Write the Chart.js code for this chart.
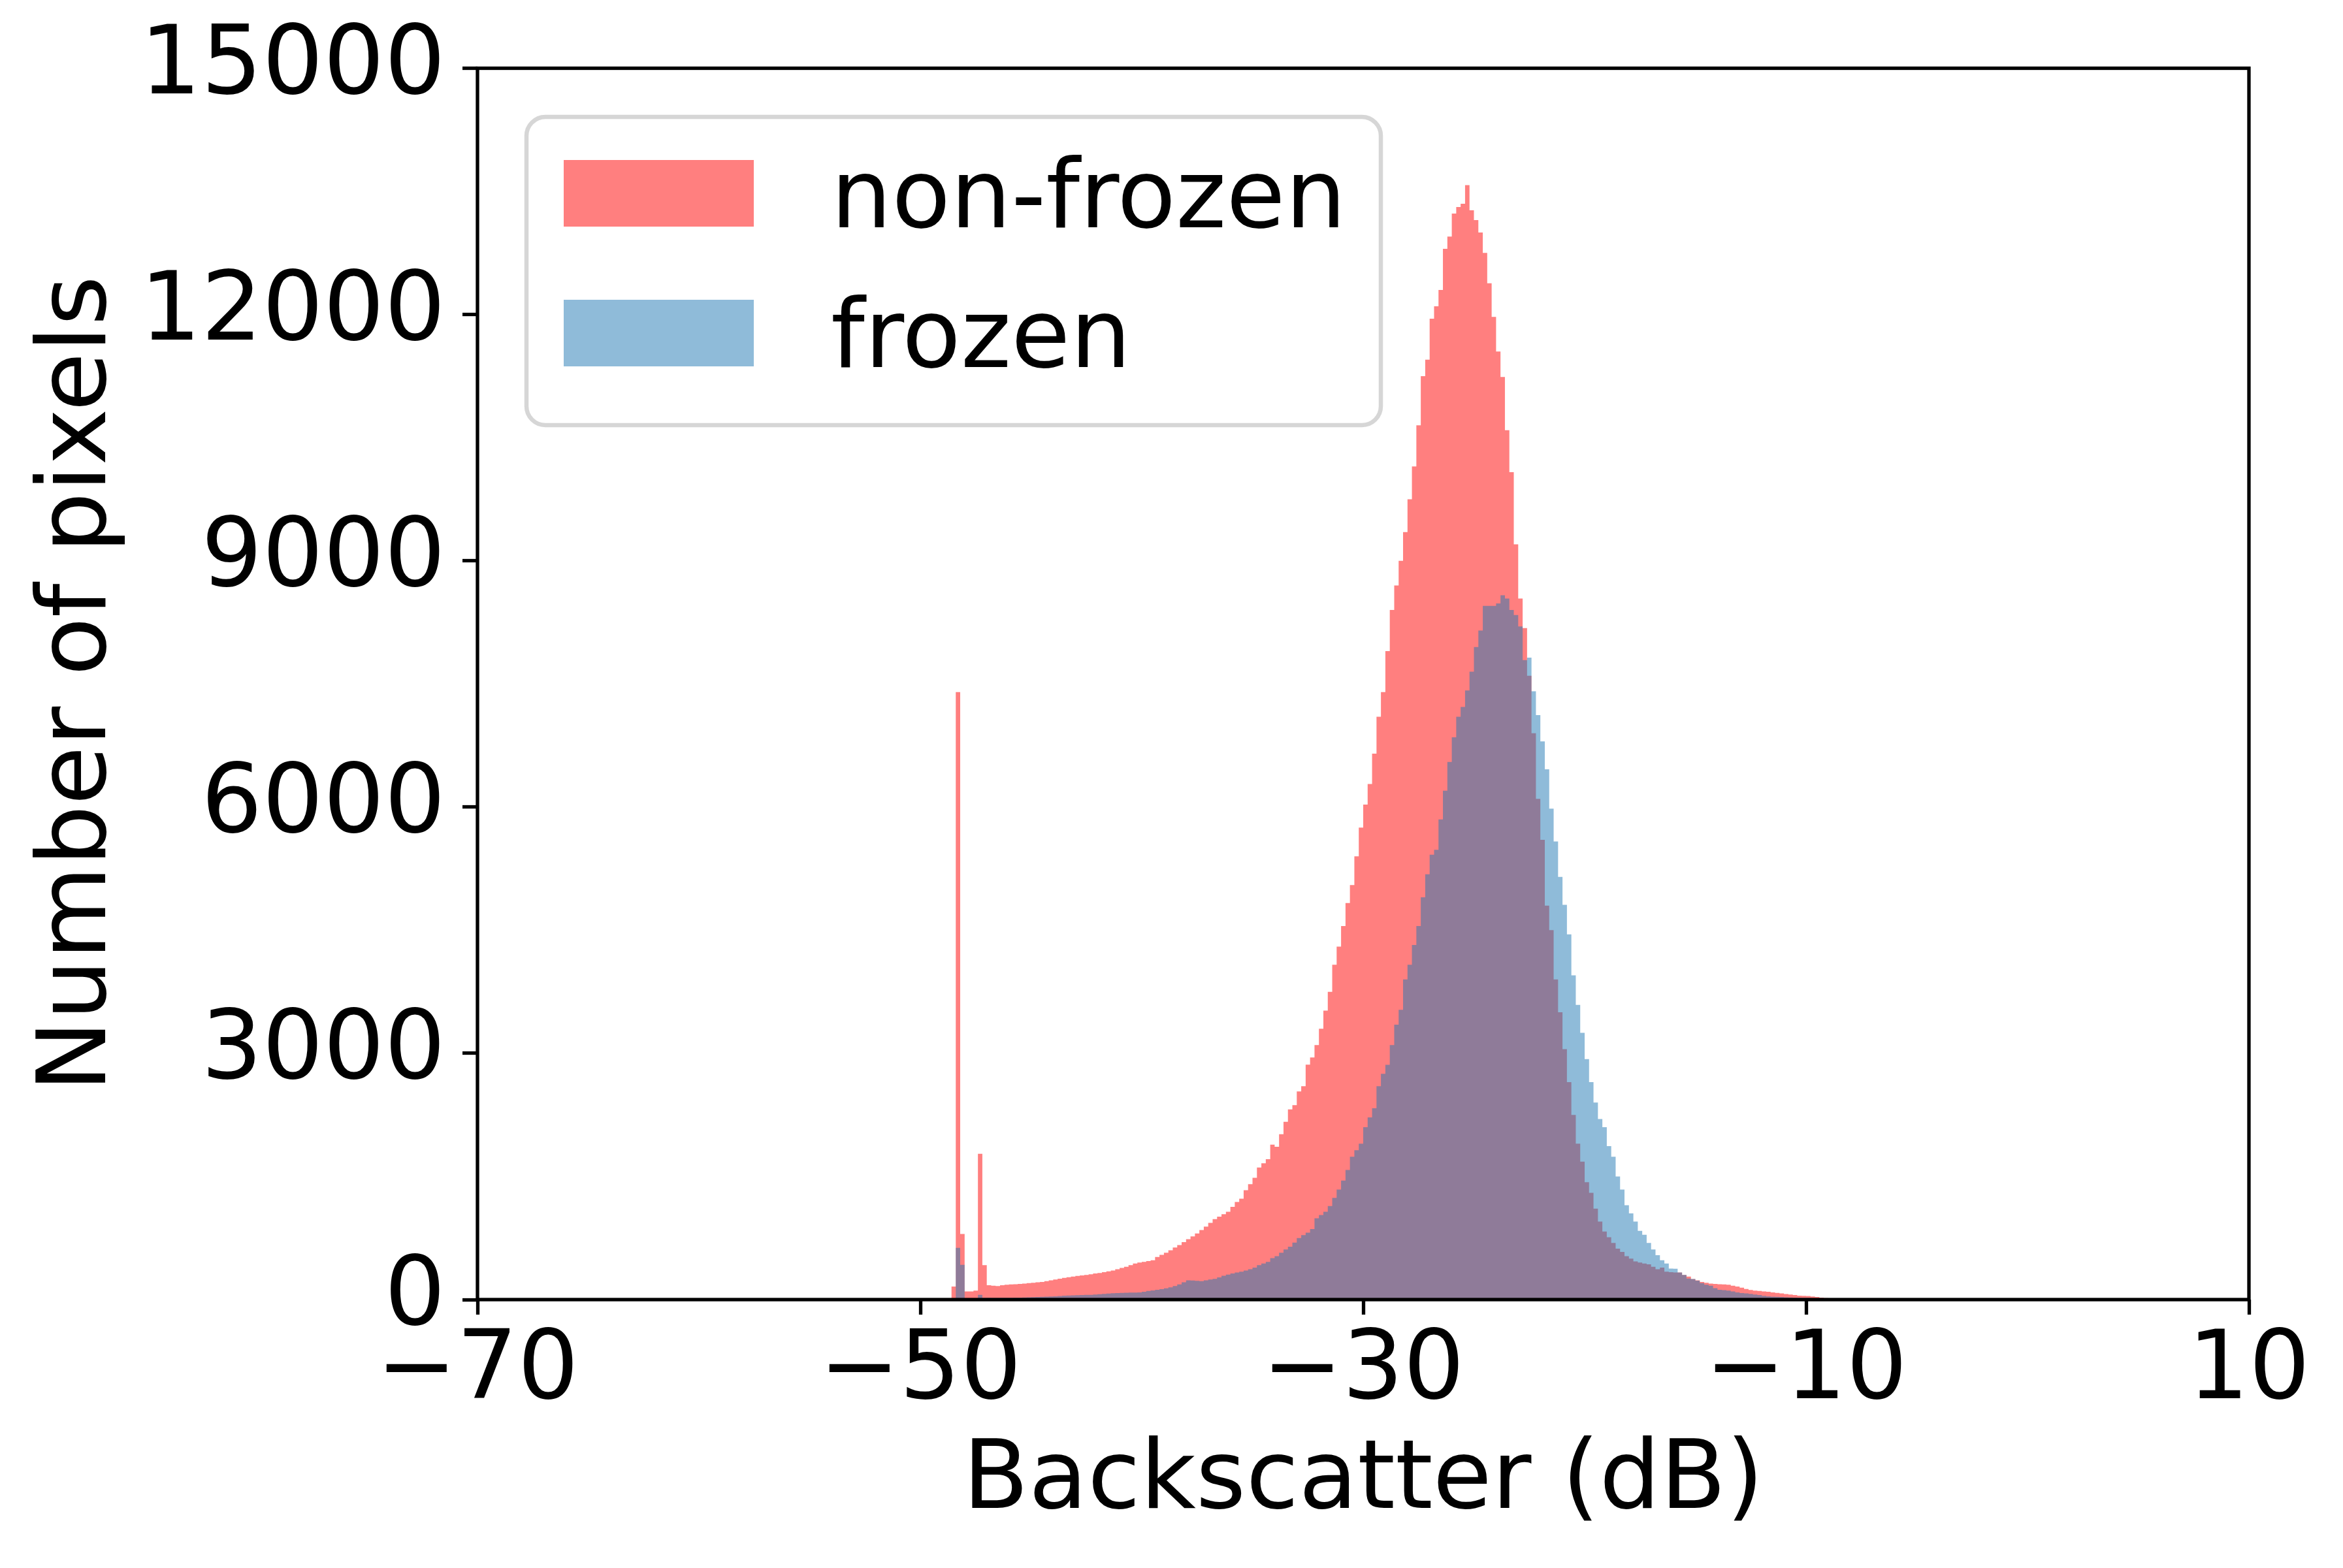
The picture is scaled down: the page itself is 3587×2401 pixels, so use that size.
<!DOCTYPE html>
<html>
<head>
<meta charset="utf-8">
<script src="https://cdn.jsdelivr.net/npm/chart.js@4.4.1/dist/chart.umd.min.js"></script>
<style>
html,body{margin:0;padding:0;background:#ffffff;}
canvas{display:block;}
</style>
</head>
<body>
<canvas id="c" width="3587" height="2401" style="width:3587px;height:2401px"></canvas>
<script>
// ---- data (0.2 dB bins) ----
const binStart = -48.6;   // left edge of first bin (dB)
const binWidth = 0.2;     // bin width (dB)
const seriesLabels = ['non-frozen', 'frozen'];
const nonFrozen = [
  160, 7400, 800, 100, 100, 110, 1776, 420, 175, 170,
  165, 175, 180, 185, 186, 190, 195, 200, 205, 210,
  215, 225, 235, 245, 255, 265, 272, 280, 288, 295,
  300, 308, 318, 325, 335, 345, 355, 370, 385, 400,
  420, 440, 451, 460, 470, 480, 520, 545, 570, 600,
  635, 665, 700, 735, 770, 805, 848, 890, 935, 981,
  1010, 1040, 1070, 1130, 1190, 1230, 1332, 1407, 1483, 1609,
  1660, 1711, 1888, 1862, 2014, 2166, 2318, 2369, 2536, 2600,
  2861, 2950, 3100, 3300, 3520, 3750, 4080, 4300, 4550, 4830,
  5050, 5400, 5750, 6030, 6280, 6650, 7100, 7400, 7900, 8400,
  8700, 9000, 9350, 9750, 10150, 10650, 11250, 11450, 11950, 12100,
  12300, 12800, 12950, 13230, 13310, 13350, 13575, 13270, 13150, 13000,
  12750, 12380, 11970, 11550, 11240, 10590, 10080, 9200, 8540, 8180,
  7600, 6900, 6100, 5600, 4800, 4500, 3900, 3500, 3050, 2650,
  2250, 1900, 1680, 1430, 1300, 1108, 950, 830, 760, 690,
  620, 580, 530, 500, 465, 452, 440, 430, 400, 370,
  390, 340, 335, 330, 330, 300, 280, 250, 235, 215,
  205, 195, 190, 187, 185, 180, 170, 160, 145, 130,
  118, 110, 105, 100, 95, 88, 82, 76, 68, 62,
  55, 48, 46, 44, 38, 32, 24, 18, 13, 10,
  8, 5, 3
];
const frozen = [
  0, 631, 424, 13, 13, 15, 58, 20, 21, 20,
  20, 21, 22, 22, 23, 24, 25, 27, 29, 31,
  33, 36, 38, 40, 44, 48, 50, 51, 53, 55,
  57, 58, 62, 66, 70, 74, 78, 80, 82, 84,
  85, 86, 87, 95, 105, 112, 120, 128, 138, 150,
  165, 185, 210, 235, 232, 228, 225, 235, 245, 252,
  270, 290, 305, 318, 330, 340, 355, 370, 390, 420,
  440, 460, 505, 530, 570, 610, 645, 695, 750, 785,
  815, 860, 990, 1030, 1070, 1140, 1240, 1340, 1450, 1580,
  1740, 1820, 1900, 2100, 2220, 2330, 2600, 2750, 2860, 3100,
  3350, 3530, 3900, 4080, 4320, 4550, 4900, 5180, 5420, 5480,
  5850, 6200, 6550, 6850, 7100, 7220, 7420, 7650, 7950, 8150,
  8450, 8450, 8450, 8480, 8580, 8540, 8400, 8340, 8200, 7790,
  7820, 7410, 7120, 6800, 6460, 5980, 5580, 5150, 4810, 4450,
  3950, 3590, 3250, 2930, 2650, 2400, 2200, 2100, 1870, 1740,
  1500, 1340, 1150, 1050, 950, 837, 790, 690, 610, 540,
  480, 440, 377, 375, 330, 300, 256, 250, 230, 200,
  180, 170, 140, 120, 115, 110, 100, 88, 80, 75,
  70, 62, 55, 46, 40, 36, 34, 32, 28, 26,
  24, 22, 20, 19, 16, 14, 11, 8, 6, 4,
  3, 2, 1
];
const xTicks = [-70, -50, -30, -10, 10];
const yTicks = [0, 3000, 6000, 9000, 12000, 15000];
const xTitle = 'Backscatter (dB)';
const yTitle = 'Number of pixels';

// ---- build histogram step outlines from the bins ----
function histPoints(vals) {
  const pts = vals.map((v, i) => ({ x: +(binStart + i * binWidth).toFixed(3), y: v }));
  pts.push({ x: +(binStart + vals.length * binWidth).toFixed(3), y: 0 });
  return pts;
}

const FONT = "'DejaVu Sans'";
const FS = 147;
const LW = 5.3;
Chart.defaults.font.family = FONT;
Chart.defaults.color = '#000000';

const fmt = v => (v < 0 ? '\u2212' + Math.abs(v) : String(v));

const framePlugin = {
  id: 'frame',
  afterDatasetsDraw(chart) {
    const { ctx, chartArea: a } = chart;
    ctx.save();
    ctx.strokeStyle = '#000000';
    ctx.lineWidth = LW;
    ctx.lineJoin = 'miter';
    ctx.strokeRect(a.left, a.top, a.right - a.left, a.bottom - a.top);
    ctx.restore();
  }
};

const legendPlugin = {
  id: 'boxLegend',
  afterDraw(chart) {
    const ctx = chart.ctx;
    const bx = 806, by = 179, bw = 1308, bh = 472, r = 29;
    ctx.save();
    ctx.beginPath();
    ctx.moveTo(bx + r, by);
    ctx.lineTo(bx + bw - r, by);
    ctx.arcTo(bx + bw, by, bx + bw, by + r, r);
    ctx.lineTo(bx + bw, by + bh - r);
    ctx.arcTo(bx + bw, by + bh, bx + bw - r, by + bh, r);
    ctx.lineTo(bx + r, by + bh);
    ctx.arcTo(bx, by + bh, bx, by + bh - r, r);
    ctx.lineTo(bx, by + r);
    ctx.arcTo(bx, by, bx + r, by, r);
    ctx.closePath();
    ctx.fillStyle = 'rgba(255,255,255,0.8)';
    ctx.fill();
    ctx.lineWidth = 6.5;
    ctx.strokeStyle = 'rgba(204,204,204,0.8)';
    ctx.stroke();
    const rows = [
      { sy: 245, base: 347.5 },
      { sy: 459, base: 562 }
    ];
    ctx.font = FS + 'px ' + FONT;
    ctx.textAlign = 'left';
    ctx.textBaseline = 'alphabetic';
    chart.data.datasets.forEach((ds, i) => {
      const row = rows[i];
      ctx.fillStyle = ds.backgroundColor;
      ctx.fillRect(863, row.sy, 291, 102);
      ctx.fillStyle = '#000000';
      ctx.fillText(ds.label, 1272, row.base);
    });
    ctx.restore();
  }
};

new Chart(document.getElementById('c'), {
  type: 'line',
  data: {
    datasets: [
      {
        label: seriesLabels[0],
        data: histPoints(nonFrozen),
        backgroundColor: 'rgba(255,0,0,0.5)',
        borderColor: 'rgba(0,0,0,0)',
        borderWidth: 0,
        fill: 'origin',
        stepped: true,
        pointRadius: 0,
        order: 1
      },
      {
        label: seriesLabels[1],
        data: histPoints(frozen),
        backgroundColor: 'rgba(31,119,180,0.5)',
        borderColor: 'rgba(0,0,0,0)',
        borderWidth: 0,
        fill: 'origin',
        stepped: true,
        pointRadius: 0,
        order: 0
      }
    ]
  },
  options: {
    responsive: false,
    devicePixelRatio: 1,
    animation: false,
    events: [],
    layout: { padding: { left: 0, top: 104.5, right: 144, bottom: 0 } },
    plugins: {
      legend: { display: false },
      tooltip: { enabled: false }
    },
    scales: {
      x: {
        type: 'linear',
        min: xTicks[0],
        max: xTicks[xTicks.length - 1],
        afterBuildTicks: s => { s.ticks = xTicks.map(v => ({ value: v })); },
        afterFit: s => { s.height = 411; },
        border: { display: false },
        grid: {
          display: true,
          drawOnChartArea: false,
          drawTicks: true,
          tickLength: 23,
          tickWidth: LW,
          tickColor: '#000000'
        },
        ticks: {
          autoSkip: false,
          maxRotation: 0,
          padding: 2,
          color: '#000000',
          font: { family: FONT, size: FS },
          callback: v => fmt(v)
        },
        title: {
          display: true,
          text: xTitle,
          color: '#000000',
          font: { family: FONT, size: FS },
          padding: { top: 0, bottom: 42 }
        }
      },
      y: {
        type: 'linear',
        min: yTicks[0],
        max: yTicks[yTicks.length - 1],
        afterBuildTicks: s => { s.ticks = yTicks.map(v => ({ value: v })); },
        afterFit: s => { s.width = 731; s.paddingTop = 80; s.paddingBottom = 80; },
        border: { display: false },
        grid: {
          display: true,
          drawOnChartArea: false,
          drawTicks: true,
          tickLength: 23,
          tickWidth: LW,
          tickColor: '#000000'
        },
        ticks: {
          autoSkip: false,
          padding: 26,
          color: '#000000',
          font: { family: FONT, size: FS },
          callback: v => String(v)
        },
        title: {
          display: true,
          text: yTitle,
          color: '#000000',
          font: { family: FONT, size: FS },
          padding: { top: 35, bottom: 0 }
        }
      }
    }
  },
  plugins: [framePlugin, legendPlugin]
});
</script>
</body>
</html>
